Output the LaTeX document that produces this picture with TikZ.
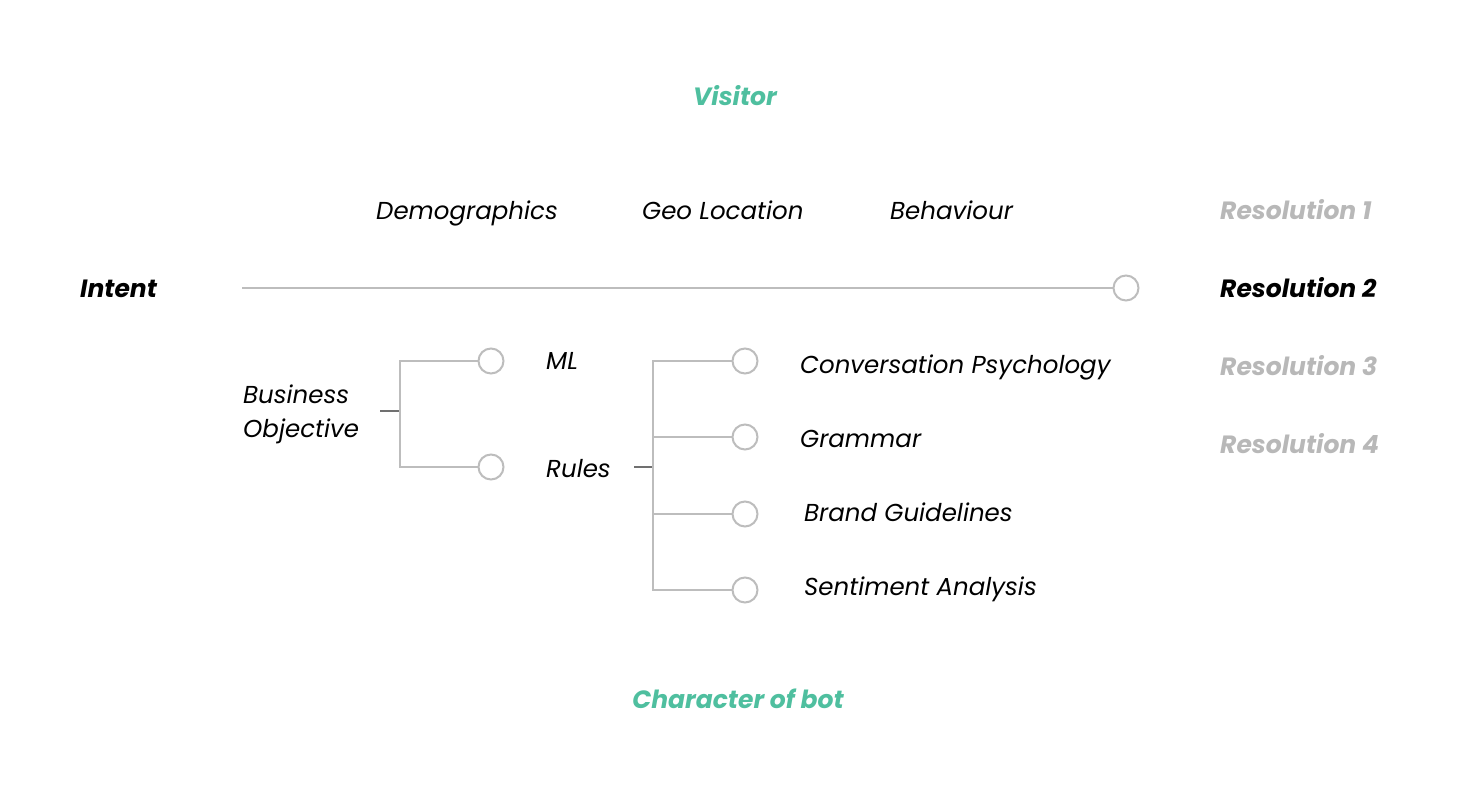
\documentclass[tikz,border=0pt]{standalone}
\usepackage{fontspec}
\setmainfont{Poppins}
\definecolor{teal}{HTML}{4FBF9F}
\definecolor{lgray}{HTML}{BDBDBD}
\definecolor{rgray}{HTML}{B8B8B8}
\definecolor{tgray}{HTML}{707070}
\begin{document}
\begin{tikzpicture}[x=1pt,y=-1pt,
  lbl/.style={font=\fontsize{24.5}{30}\selectfont\itshape, inner sep=0pt, anchor=west, text height=17pt, text depth=0pt},
  blbl/.style={font=\fontsize{25}{30}\selectfont\bfseries\itshape, inner sep=0pt, text height=17.5pt, text depth=0pt},
  circ/.style={circle, draw=lgray, line width=2pt, fill=white, minimum size=25pt, inner sep=0pt},
  wire/.style={draw=lgray, line width=2pt},
  tick/.style={draw=tgray, line width=2pt}]
\useasboundingbox (0,0) rectangle (1472,798);
% titles
\node[blbl, text=teal] (visitor) at (735,97) {Visitor};
\node[blbl, text=teal] (character) at (738,700) {Character of bot};
% top row
\node[lbl] (demo) at (376,211) {Demographics};
\node[lbl] (geo) at (642,211) {Geo Location};
\node[lbl] (beh) at (890,211) {Behaviour};
% resolutions
\node[blbl, anchor=west, text=rgray] (res1) at (1220,211) {Resolution 1};
\node[blbl, anchor=west] (res2) at (1220,289) {Resolution 2};
\node[blbl, anchor=west, text=rgray] (res3) at (1220,367) {Resolution 3};
\node[blbl, anchor=west, text=rgray] (res4) at (1220,445) {Resolution 4};
% intent line
\node[blbl, anchor=west] (intent) at (80,289) {Intent};
\coordinate (istart) at (242,288);
\node[circ] (icirc) at (1126,288) {};
\draw[wire] (istart) -- (icirc.west);
% business objective
\node[font=\fontsize{24.5}{34}\selectfont\itshape, inner sep=0pt, anchor=west, align=left] (bo) at (243,414) {Business\\Objective};
\coordinate (bt0) at (380,411);
\coordinate (bt1) at (400,411);
\node[circ] (mlc) at (491,361) {};
\node[circ] (rc) at (491,467) {};
\draw[tick] (bt0) -- (bt1);
\draw[wire] (mlc.west) -| (bt1) |- (rc.west);
\node[lbl] (ml) at (546,361) {ML};
\node[lbl] (rules) at (546,469) {Rules};
% rules tree
\coordinate (rt0) at (634,467);
\coordinate (rt1) at (653,467);
\node[circ] (c1) at (745,361) {};
\node[circ] (c2) at (745,437) {};
\node[circ] (c3) at (745,514) {};
\node[circ] (c4) at (745,590) {};
\draw[tick] (rt0) -- (rt1);
\draw[wire] (c1.west) -| (rt1) |- (c4.west);
\draw[wire] (c2.west) -- (c2.west -| rt1);
\draw[wire] (c3.west) -- (c3.west -| rt1);
\node[lbl] (conv) at (800,365) {Conversation Psychology};
\node[lbl] (gram) at (800,439) {Grammar};
\node[lbl] (brand) at (804,513) {Brand Guidelines};
\node[lbl] (sent) at (804,587) {Sentiment Analysis};
\end{tikzpicture}
\end{document}
